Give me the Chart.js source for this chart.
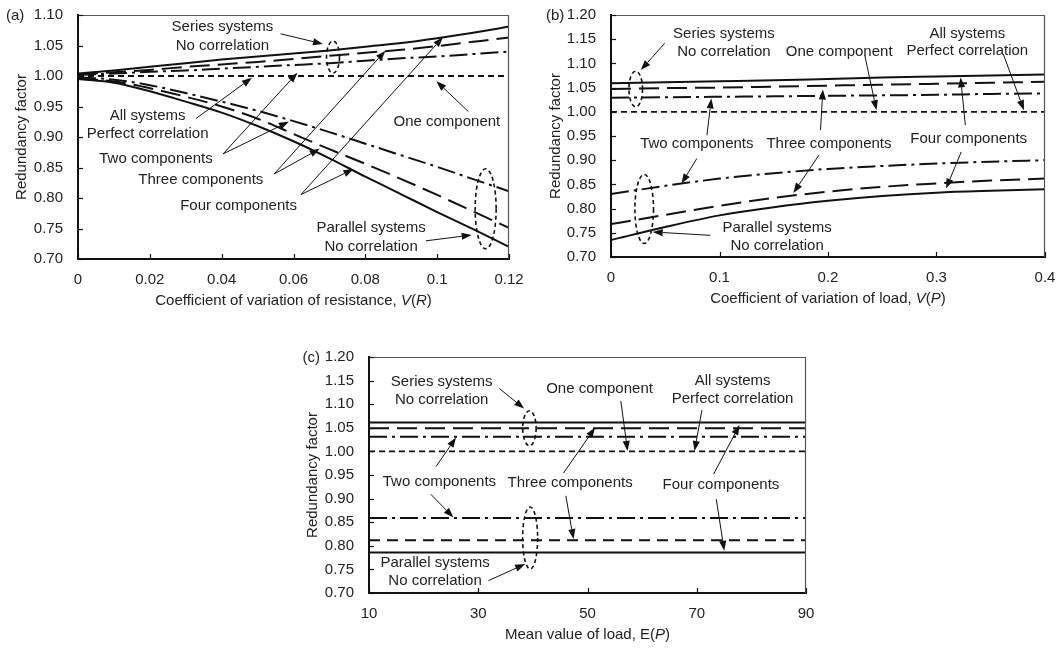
<!DOCTYPE html>
<html><head><meta charset="utf-8">
<script src="https://cdn.jsdelivr.net/npm/chart.js@4.4.1/dist/chart.umd.min.js"></script>
<style>
html,body{margin:0;padding:0;background:#fff;width:1063px;height:648px;overflow:hidden;}
.box{position:absolute;}
canvas{display:block;}
</style></head><body>
<div class="box" style="left:0;top:0;width:530px;height:320px"><canvas id="ca"></canvas></div>
<div class="box" style="left:530px;top:0;width:533px;height:320px"><canvas id="cb"></canvas></div>
<div class="box" style="left:300px;top:320px;width:520px;height:328px"><canvas id="cc"></canvas></div>
<script>
// ---------- Panel (a): redundancy factor vs V(R) ----------
const xA = [0, 0.01, 0.02, 0.03, 0.04, 0.05, 0.06, 0.07, 0.08, 0.09, 0.10, 0.11, 0.12];
const aSeries4 = [1.004, 1.009, 1.015, 1.021, 1.027, 1.032, 1.037, 1.042, 1.048, 1.054, 1.062, 1.071, 1.081];
const aSeries3 = [1.003, 1.006, 1.010, 1.015, 1.019, 1.023, 1.028, 1.033, 1.038, 1.043, 1.049, 1.056, 1.063];
const aSeries2 = [1.002, 1.004, 1.007, 1.009, 1.012, 1.015, 1.018, 1.021, 1.025, 1.029, 1.032, 1.036, 1.040];
const aOne     = [1.000, 1.000, 1.000, 1.000, 1.000, 1.000, 1.000, 1.000, 1.000, 1.000, 1.000, 1.000, 1.000];
const aPar2    = [0.998, 0.994, 0.985, 0.972, 0.958, 0.943, 0.926, 0.908, 0.889, 0.870, 0.851, 0.831, 0.811];
const aPar3    = [0.996, 0.991, 0.980, 0.966, 0.950, 0.930, 0.905, 0.880, 0.856, 0.831, 0.805, 0.778, 0.751];
const aPar4    = [0.995, 0.989, 0.975, 0.958, 0.940, 0.918, 0.893, 0.865, 0.835, 0.806, 0.777, 0.749, 0.720];
const aXTicks = [0, 0.02, 0.04, 0.06, 0.08, 0.10, 0.12];
const aXLabels = ['0', '0.02', '0.04', '0.06', '0.08', '0.1', '0.12'];
const aYTicks = [0.70, 0.75, 0.80, 0.85, 0.90, 0.95, 1.00, 1.05, 1.10];
const aYLabels = ['0.70', '0.75', '0.80', '0.85', '0.90', '0.95', '1.00', '1.05', '1.10'];

// ---------- Panel (b): redundancy factor vs V(P) ----------
const xB = [0, 0.05, 0.10, 0.15, 0.20, 0.25, 0.30, 0.35, 0.40];
const bSeries4 = [1.059, 1.061, 1.063, 1.065, 1.068, 1.071, 1.073, 1.075, 1.077];
const bSeries3 = [1.047, 1.049, 1.050, 1.052, 1.054, 1.056, 1.058, 1.060, 1.062];
const bSeries2 = [1.029, 1.030, 1.031, 1.032, 1.033, 1.034, 1.035, 1.037, 1.038];
const bOne     = [1.000, 1.000, 1.000, 1.000, 1.000, 1.000, 1.000, 1.000, 1.000];
const bPar2    = [0.830, 0.847, 0.862, 0.873, 0.882, 0.888, 0.893, 0.897, 0.900];
const bPar3    = [0.768, 0.787, 0.806, 0.822, 0.835, 0.845, 0.852, 0.858, 0.862];
const bPar4    = [0.735, 0.762, 0.786, 0.803, 0.816, 0.826, 0.833, 0.837, 0.840];
const bXTicks = [0, 0.1, 0.2, 0.3, 0.4];
const bXLabels = ['0', '0.1', '0.2', '0.3', '0.4'];
const bYTicks = [0.70, 0.75, 0.80, 0.85, 0.90, 0.95, 1.00, 1.05, 1.10, 1.15, 1.20];
const bYLabels = ['0.70', '0.75', '0.80', '0.85', '0.90', '0.95', '1.00', '1.05', '1.10', '1.15', '1.20'];

// ---------- Panel (c): redundancy factor vs E(P) ----------
const xC = [10, 30, 50, 70, 90];
const cSeries4 = [1.061, 1.061, 1.061, 1.061, 1.061];
const cSeries3 = [1.049, 1.049, 1.049, 1.049, 1.049];
const cSeries2 = [1.031, 1.031, 1.031, 1.031, 1.031];
const cOne     = [1.000, 1.000, 1.000, 1.000, 1.000];
const cPar2    = [0.859, 0.859, 0.859, 0.859, 0.859];
const cPar3    = [0.812, 0.812, 0.812, 0.812, 0.812];
const cPar4    = [0.786, 0.786, 0.786, 0.786, 0.786];
const cXTicks = [10, 30, 50, 70, 90];
const cXLabels = ['10', '30', '50', '70', '90'];
const cYTicks = bYTicks;
const cYLabels = bYLabels;

// ---------- styles ----------
const FONT = '"Liberation Sans", Arial, Helvetica, sans-serif';
Chart.defaults.font.family = FONT;
Chart.defaults.font.size = 15;
Chart.defaults.color = '#222';
const STY = {
  solid:   {dash: [], w: 2},
  dash:    {dash: [20, 8], w: 2},
  dashdot: {dash: [18, 5, 3, 5], w: 2},
  short:   {dash: [6, 4], w: 1.8},
  mid:     {dash: [11, 7], w: 2}
};

// ---------- annotations (data coordinates; ellipse radii in px) ----------
const annA = {
  labels: [
    ['Series systems', 0.0402, 1.0813], ['No correlation', 0.0402, 1.0497],
    ['All systems', 0.0194, 0.9344], ['Perfect correlation', 0.0194, 0.9044],
    ['Two components', 0.0217, 0.8639], ['Three components', 0.0342, 0.8295],
    ['Four components', 0.0447, 0.7875], ['One component', 0.1027, 0.9251],
    ['Parallel systems', 0.0816, 0.7503], ['No correlation', 0.0816, 0.7198]
  ],
  arrows: [
    [0.0564, 1.0692, 0.0682, 1.0525],
    [0.0329, 0.9305, 0.0484, 0.9970],
    [0.0404, 0.8723, 0.0611, 1.0054],
    [0.0404, 0.8723, 0.0587, 0.9251],
    [0.0546, 0.8393, 0.0856, 1.0415],
    [0.0546, 0.8393, 0.0673, 0.8807],
    [0.0621, 0.8057, 0.1016, 1.0636],
    [0.0621, 0.8057, 0.0767, 0.8475],
    [0.1087, 0.9416, 0.0998, 0.9915],
    [0.0969, 0.7298, 0.1096, 0.7393]
  ],
  ellipses: [[0.0710, 1.031, 6.5, 16], [0.1135, 0.7823, 10.5, 40]]
};
const annB = {
  labels: [
    ['Series systems', 0.1041, 1.162], ['No correlation', 0.1041, 1.124],
    ['One component', 0.2103, 1.124],
    ['All systems', 0.3284, 1.162], ['Perfect correlation', 0.3284, 1.1262],
    ['Two components', 0.0791, 0.9345], ['Three components', 0.2009, 0.9345],
    ['Four components', 0.3297, 0.9448],
    ['Parallel systems', 0.1531, 0.760], ['No correlation', 0.1531, 0.7228]
  ],
  arrows: [
    [0.0494, 1.1414, 0.0275, 1.0862],
    [0.2338, 1.1172, 0.2447, 1.0034],
    [0.3619, 1.1172, 0.3806, 1.0034],
    [0.0884, 0.9517, 0.0925, 1.0276],
    [0.0791, 0.9034, 0.0650, 0.8517],
    [0.1931, 0.9621, 0.1953, 1.0462],
    [0.1916, 0.9103, 0.1681, 0.8324],
    [0.3266, 0.9724, 0.3222, 1.0710],
    [0.3228, 0.9172, 0.3088, 0.8414],
    [0.0916, 0.7448, 0.0384, 0.7517]
  ],
  ellipses: [[0.0228, 1.0470, 6.8, 17.8], [0.0306, 0.7993, 9.3, 34.5]]
};
const annC = {
  labels: [
    ['Series systems', 23.31, 1.1471], ['No correlation', 23.31, 1.109],
    ['One component', 52.2, 1.1316],
    ['All systems', 76.56, 1.1485], ['Perfect correlation', 76.56, 1.1104],
    ['Two components', 22.89, 0.9362], ['Three components', 46.82, 0.9327],
    ['Four components', 74.43, 0.9285],
    ['Parallel systems', 22.09, 0.7628], ['No correlation', 22.09, 0.7247]
  ],
  arrows: [
    [33.88, 1.133, 38.4, 1.0907],
    [56.1, 1.1069, 57.33, 1.0011],
    [70.95, 1.0879, 69.6, 1.0011],
    [22.27, 0.968, 25.94, 1.0293],
    [21.3, 0.9094, 25.45, 0.8601],
    [45.6, 0.9539, 51.4, 1.0505],
    [46.03, 0.9059, 47.44, 0.8142],
    [73.08, 0.9518, 77.85, 1.0561],
    [73.57, 0.8989, 75.04, 0.7896],
    [31.86, 0.7261, 38.58, 0.7614]
  ],
  ellipses: [[39.37, 1.0491, 6.7, 17.5], [39.5, 0.8164, 7.5, 31]]
};

function makePlugin(cfg) {
  return {
    id: 'panelDeco',
    afterDraw(chart) {
      const ctx = chart.ctx, xs = chart.scales.x, ys = chart.scales.y, ca = chart.chartArea;
      const X = v => xs.getPixelForValue(v), Y = v => ys.getPixelForValue(v);
      ctx.save();
      // frame top / right
      ctx.strokeStyle = '#555'; ctx.lineWidth = 1.2; ctx.setLineDash([]);
      ctx.beginPath();
      ctx.moveTo(ca.left, ca.top + 0.5); ctx.lineTo(ca.right - 0.5, ca.top + 0.5); ctx.lineTo(ca.right - 0.5, ca.bottom);
      ctx.stroke();
      // inward tick marks
      ctx.strokeStyle = '#111'; ctx.lineWidth = 1.2;
      xs.ticks.forEach(t => { const p = Math.round(X(t.value)) + 0.5; ctx.beginPath(); ctx.moveTo(p, ca.bottom); ctx.lineTo(p, ca.bottom - 5); ctx.stroke(); });
      ys.ticks.forEach(t => { const p = Math.round(Y(t.value)) + 0.5; ctx.beginPath(); ctx.moveTo(ca.left, p); ctx.lineTo(ca.left + 5, p); ctx.stroke(); });
      // ellipses
      ctx.lineWidth = 1.6; ctx.setLineDash([4, 3]);
      cfg.ann.ellipses.forEach(e => { ctx.beginPath(); ctx.ellipse(X(e[0]), Y(e[1]), e[2], e[3], 0, 0, Math.PI * 2); ctx.stroke(); });
      ctx.setLineDash([]);
      // arrows
      ctx.lineWidth = 1; ctx.fillStyle = '#111';
      cfg.ann.arrows.forEach(a => {
        const x1 = X(a[0]), y1 = Y(a[1]), x2 = X(a[2]), y2 = Y(a[3]);
        const ang = Math.atan2(y2 - y1, x2 - x1), L = 10, H = 3.6;
        const bx = x2 - L * Math.cos(ang), by = y2 - L * Math.sin(ang);
        ctx.beginPath(); ctx.moveTo(x1, y1); ctx.lineTo(bx, by); ctx.stroke();
        ctx.beginPath(); ctx.moveTo(x2, y2);
        ctx.lineTo(bx + H * Math.sin(ang), by - H * Math.cos(ang));
        ctx.lineTo(bx - H * Math.sin(ang), by + H * Math.cos(ang));
        ctx.closePath(); ctx.fill();
      });
      // labels
      ctx.fillStyle = '#222'; ctx.font = '15px ' + FONT; ctx.textAlign = 'center'; ctx.textBaseline = 'middle';
      cfg.ann.labels.forEach(l => ctx.fillText(l[0], X(l[1]), Y(l[2])));
      // panel label
      ctx.textAlign = 'left';
      ctx.fillText(cfg.panel, cfg.panelX, ca.top + 1);
      // x-axis title with italic parts
      const segs = cfg.xTitle;
      let total = 0;
      segs.forEach(s => { ctx.font = (s[1] ? 'italic ' : '') + '15px ' + FONT; total += ctx.measureText(s[0]).width; });
      let xx = (ca.left + ca.right) / 2 - total / 2;
      const ty = ca.bottom + 42;
      segs.forEach(s => { ctx.font = (s[1] ? 'italic ' : '') + '15px ' + FONT; ctx.fillText(s[0], xx, ty); xx += ctx.measureText(s[0]).width; });
      ctx.restore();
    }
  };
}

function makeChart(id, cfg) {
  const canvas = document.getElementById(id);
  canvas.width = cfg.w; canvas.height = cfg.h;
  const datasets = cfg.series.map(s => ({
    data: cfg.xs.map((x, i) => ({x: x, y: s[0][i]})),
    borderColor: '#111', borderWidth: s[1].w, borderDash: s[1].dash,
    borderCapStyle: 'butt', pointRadius: 0, fill: false,
    cubicInterpolationMode: 'monotone'
  }));
  return new Chart(canvas, {
    type: 'line',
    data: {datasets: datasets},
    options: {
      responsive: false, animation: false, events: [],
      layout: {padding: {left: 0, right: cfg.padR, top: cfg.padT, bottom: 0}},
      plugins: {legend: {display: false}, tooltip: {enabled: false}},
      scales: {
        x: {
          type: 'linear', min: cfg.xMin, max: cfg.xMax,
          grid: {display: false, drawTicks: false},
          border: {display: true, color: '#111', width: 2},
          ticks: {autoSkip: false, maxRotation: 0, padding: 12, color: '#222', font: {size: 15},
                  callback: (v, i) => cfg.xLabels[i]},
          afterBuildTicks: s => { s.ticks = cfg.xTicks.map(v => ({value: v})); },
          afterFit: s => { s.height = cfg.xAxisH; s.paddingLeft = 0; s.paddingRight = 0; }
        },
        y: {
          type: 'linear', min: cfg.yMin, max: cfg.yMax,
          grid: {display: false, drawTicks: false},
          border: {display: true, color: '#111', width: 2},
          ticks: {autoSkip: false, padding: 15, color: '#222', font: {size: 15},
                  callback: (v, i) => cfg.yLabels[i]},
          afterBuildTicks: s => { s.ticks = cfg.yTicks.map(v => ({value: v})); },
          afterFit: s => { s.width = cfg.yAxisW; s.paddingTop = 0; s.paddingBottom = 0; },
          title: {display: true, text: 'Redundancy factor', color: '#222', font: {size: 15},
                  padding: {top: cfg.yTitlePad, bottom: 0}}
        }
      }
    },
    plugins: [makePlugin(cfg)]
  });
}

makeChart('ca', {
  w: 530, h: 320, padR: 21, padT: 15, yAxisW: 78, xAxisH: 61, yTitlePad: 13,
  xMin: 0, xMax: 0.12, yMin: 0.70, yMax: 1.10,
  xs: xA, xTicks: aXTicks, xLabels: aXLabels, yTicks: aYTicks, yLabels: aYLabels,
  series: [[aSeries4, STY.solid], [aSeries3, STY.dash], [aSeries2, STY.dashdot], [aOne, STY.short],
           [aPar2, STY.dashdot], [aPar3, STY.dash], [aPar4, STY.solid]],
  ann: annA, panel: '(a)', panelX: 6,
  xTitle: [['Coefficient of variation of resistance, ', false], ['V', true], ['(', false], ['R', true], [')', false]]
});
makeChart('cb', {
  w: 533, h: 320, padR: 18, padT: 15, yAxisW: 81, xAxisH: 63, yTitlePad: 16.5,
  xMin: 0, xMax: 0.4, yMin: 0.70, yMax: 1.20,
  xs: xB, xTicks: bXTicks, xLabels: bXLabels, yTicks: bYTicks, yLabels: bYLabels,
  series: [[bSeries4, STY.solid], [bSeries3, STY.dash], [bSeries2, STY.dashdot], [bOne, STY.short],
           [bPar2, STY.dashdot], [bPar3, STY.dash], [bPar4, STY.solid]],
  ann: annB, panel: '(b)', panelX: 16,
  xTitle: [['Coefficient of variation of load, ', false], ['V', true], ['(', false], ['P', true], [')', false]]
});
makeChart('cc', {
  w: 520, h: 328, padR: 14, padT: 37, yAxisW: 69, xAxisH: 55, yTitlePad: 4,
  xMin: 10, xMax: 90, yMin: 0.70, yMax: 1.20,
  xs: xC, xTicks: cXTicks, xLabels: cXLabels, yTicks: cYTicks, yLabels: cYLabels,
  series: [[cSeries4, STY.solid], [cSeries3, STY.dash], [cSeries2, STY.dashdot], [cOne, STY.short],
           [cPar2, STY.dashdot], [cPar3, STY.mid], [cPar4, STY.solid]],
  ann: annC, panel: '(c)', panelX: 2.5,
  xTitle: [['Mean value of load, E(', false], ['P', true], [')', false]]
});
</script>
</body></html>
